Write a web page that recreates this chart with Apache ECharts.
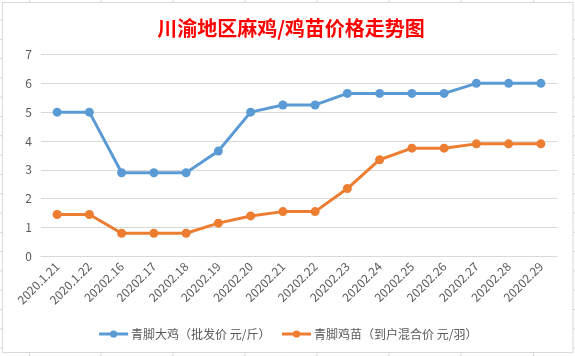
<!DOCTYPE html>
<html>
<head>
<meta charset="utf-8">
<script src="https://cdn.jsdelivr.net/npm/echarts@6/dist/echarts.min.js"></script>
<style>
html,body{margin:0;padding:0;background:#fff;}
#c{width:575px;height:356px;}
</style>
</head>
<body>
<div id="c"></div>
<script>
const categories = ['2020.1.21','2020.1.22','20202.16','20202.17','20202.18','20202.19','20202.20','20202.21','20202.22','20202.23','20202.24','20202.25','20202.26','20202.27','20202.28','20202.29'];
const chickenPrice = [5, 5, 2.9, 2.9, 2.9, 3.65, 5, 5.25, 5.25, 5.65, 5.65, 5.65, 5.65, 6, 6, 6];
const chickPrice = [1.45, 1.45, 0.8, 0.8, 0.8, 1.15, 1.4, 1.55, 1.55, 2.35, 3.35, 3.75, 3.75, 3.9, 3.9, 3.9];
const seriesNames = ['青脚大鸡（批发价 元/斤）', '青脚鸡苗（到户混合价 元/羽）'];
const yTicks = {min: 0, max: 7, interval: 1};
const titleText = '川渝地区麻鸡/鸡苗价格走势图';

const FONT = '"Noto Sans CJK SC", "Noto Sans", sans-serif';
const chart = echarts.init(document.getElementById('c'));

const sheetLines = [];
const colXs = [29.5, 101, 173, 245, 317, 389, 461, 533.5];
colXs.forEach(x => {
  sheetLines.push({type:'line', shape:{x1:x,y1:0,x2:x,y2:2}, style:{stroke:'#D4D4D4',lineWidth:1}, silent:true});
  sheetLines.push({type:'line', shape:{x1:x,y1:353,x2:x,y2:356}, style:{stroke:'#D4D4D4',lineWidth:1}, silent:true});
});
for (let y = 20; y < 356; y += 19.3) {
  sheetLines.push({type:'line', shape:{x1:0,y1:y,x2:2,y2:y}, style:{stroke:'#D4D4D4',lineWidth:1}, silent:true});
  sheetLines.push({type:'line', shape:{x1:573,y1:y,x2:575,y2:y}, style:{stroke:'#D4D4D4',lineWidth:1}, silent:true});
}

chart.setOption({
  backgroundColor: '#fff',
  animation: false,
  title: {
    text: titleText,
    left: 286, top: 13, textAlign: 'center',
    textStyle: {color: '#FF0000', fontSize: 20, fontWeight: 'bold', fontFamily: FONT}
  },
  graphic: [
    {type:'rect', shape:{x:2.5,y:2.5,width:570.5,height:350}, style:{fill:'none',stroke:'#D9D9D9',lineWidth:1}, silent:true}
  ].concat(sheetLines),
  legend: {
    bottom: 11, left: 'center',
    itemWidth: 29, itemHeight: 9, itemGap: 10,
    textStyle: {color: '#595959', fontSize: 12, fontFamily: FONT, padding: [0,0,0,-2]},
    lineStyle: {width: 3},
    data: seriesNames
  },
  grid: {left: 41, right: 18, top: 54.5, bottom: 99.7, containLabel: false},
  xAxis: {
    type: 'category', data: categories, boundaryGap: true,
    axisLine: {lineStyle: {color: '#D9D9D9', width: 1}},
    axisTick: {show: false},
    axisLabel: {rotate: 45, color: '#595959', fontSize: 12, fontFamily: FONT, interval: 0, margin: 8}
  },
  yAxis: {
    type: 'value', min: yTicks.min, max: yTicks.max, interval: yTicks.interval,
    axisLine: {show: false}, axisTick: {show: false},
    splitLine: {lineStyle: {color: '#D9D9D9', width: 1}},
    axisLabel: {color: '#595959', fontSize: 12, fontFamily: FONT, margin: 9}
  },
  series: [
    {name: seriesNames[0], type: 'line', data: chickenPrice, symbol: 'circle', symbolSize: 9,
     lineStyle: {color: '#5B9BD5', width: 3}, itemStyle: {color: '#5B9BD5'}},
    {name: seriesNames[1], type: 'line', data: chickPrice, symbol: 'circle', symbolSize: 9,
     lineStyle: {color: '#ED7D31', width: 3}, itemStyle: {color: '#ED7D31'}}
  ]
});
</script>
</body>
</html>
